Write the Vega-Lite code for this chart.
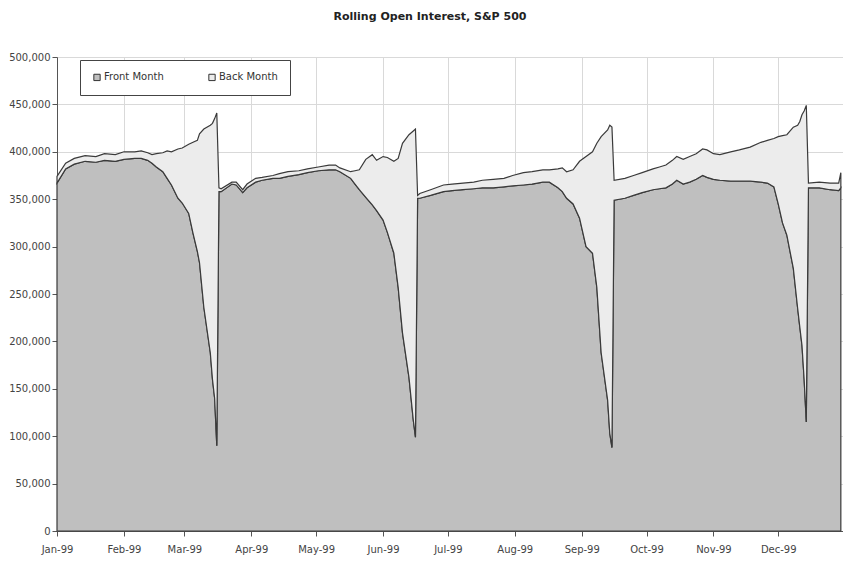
{
  "$schema": "https://vega.github.io/schema/vega-lite/v6.json",
  "width": 786,
  "height": 474,
  "autosize": {"type": "none"},
  "padding": {"left": 57, "top": 57, "right": 0, "bottom": 30},
  "background": "white",
  "config": {"font": "DejaVu Sans", "view": {"stroke": "#d9d9d9"}},
  "title": {"text": "Rolling Open Interest, S&P 500", "fontSize": 11, "fontWeight": "bold", "color": "#222", "anchor": "middle", "frame": "group", "offset": 30, "dx": -20},
  "data": {"values": [
    {"date": "1999-01-01", "Front Month": 367000, "Back Month": 7000},
    {"date": "1999-01-05", "Front Month": 382000, "Back Month": 6000},
    {"date": "1999-01-09", "Front Month": 387000, "Back Month": 6000},
    {"date": "1999-01-14", "Front Month": 390000, "Back Month": 6000},
    {"date": "1999-01-19", "Front Month": 389000, "Back Month": 6000},
    {"date": "1999-01-23", "Front Month": 391000, "Back Month": 7000},
    {"date": "1999-01-28", "Front Month": 390000, "Back Month": 7000},
    {"date": "1999-02-01", "Front Month": 392000, "Back Month": 8000},
    {"date": "1999-02-06", "Front Month": 393000, "Back Month": 7000},
    {"date": "1999-02-09", "Front Month": 393000, "Back Month": 8000},
    {"date": "1999-02-12", "Front Month": 391000, "Back Month": 8000},
    {"date": "1999-02-14", "Front Month": 388000, "Back Month": 9000},
    {"date": "1999-02-16", "Front Month": 384000, "Back Month": 14000},
    {"date": "1999-02-19", "Front Month": 379000, "Back Month": 20000},
    {"date": "1999-02-21", "Front Month": 372000, "Back Month": 29000},
    {"date": "1999-02-23", "Front Month": 365000, "Back Month": 35000},
    {"date": "1999-02-26", "Front Month": 351000, "Back Month": 52000},
    {"date": "1999-02-28", "Front Month": 346000, "Back Month": 58000},
    {"date": "1999-03-03", "Front Month": 335000, "Back Month": 73000},
    {"date": "1999-03-05", "Front Month": 314000, "Back Month": 96000},
    {"date": "1999-03-07", "Front Month": 295000, "Back Month": 117000},
    {"date": "1999-03-08", "Front Month": 283000, "Back Month": 136000},
    {"date": "1999-03-10", "Front Month": 236000, "Back Month": 188000},
    {"date": "1999-03-13", "Front Month": 188000, "Back Month": 240000},
    {"date": "1999-03-14", "Front Month": 160000, "Back Month": 270000},
    {"date": "1999-03-15", "Front Month": 140000, "Back Month": 295000},
    {"date": "1999-03-16", "Front Month": 90000, "Back Month": 351000},
    {"date": "1999-03-17", "Front Month": 358000, "Back Month": 4000},
    {"date": "1999-03-18", "Front Month": 358000, "Back Month": 3000},
    {"date": "1999-03-23", "Front Month": 366000, "Back Month": 2000},
    {"date": "1999-03-25", "Front Month": 365000, "Back Month": 3000},
    {"date": "1999-03-28", "Front Month": 357000, "Back Month": 3000},
    {"date": "1999-03-30", "Front Month": 362000, "Back Month": 4000},
    {"date": "1999-04-03", "Front Month": 368000, "Back Month": 4000},
    {"date": "1999-04-06", "Front Month": 370000, "Back Month": 3000},
    {"date": "1999-04-11", "Front Month": 372000, "Back Month": 3000},
    {"date": "1999-04-14", "Front Month": 372000, "Back Month": 5000},
    {"date": "1999-04-18", "Front Month": 374000, "Back Month": 5000},
    {"date": "1999-04-23", "Front Month": 376000, "Back Month": 4000},
    {"date": "1999-04-27", "Front Month": 378000, "Back Month": 4000},
    {"date": "1999-05-02", "Front Month": 380000, "Back Month": 4000},
    {"date": "1999-05-07", "Front Month": 381000, "Back Month": 5000},
    {"date": "1999-05-10", "Front Month": 381000, "Back Month": 5000},
    {"date": "1999-05-12", "Front Month": 379000, "Back Month": 4000},
    {"date": "1999-05-17", "Front Month": 372000, "Back Month": 7000},
    {"date": "1999-05-19", "Front Month": 366000, "Back Month": 14000},
    {"date": "1999-05-21", "Front Month": 360000, "Back Month": 21000},
    {"date": "1999-05-24", "Front Month": 352000, "Back Month": 40000},
    {"date": "1999-05-27", "Front Month": 344000, "Back Month": 53000},
    {"date": "1999-05-29", "Front Month": 338000, "Back Month": 53000},
    {"date": "1999-06-01", "Front Month": 328000, "Back Month": 67000},
    {"date": "1999-06-03", "Front Month": 315000, "Back Month": 79000},
    {"date": "1999-06-06", "Front Month": 293000, "Back Month": 97000},
    {"date": "1999-06-08", "Front Month": 257000, "Back Month": 136000},
    {"date": "1999-06-10", "Front Month": 209000, "Back Month": 200000},
    {"date": "1999-06-13", "Front Month": 162000, "Back Month": 256000},
    {"date": "1999-06-15", "Front Month": 117000, "Back Month": 305000},
    {"date": "1999-06-16", "Front Month": 99000, "Back Month": 325000},
    {"date": "1999-06-17", "Front Month": 351000, "Back Month": 3000},
    {"date": "1999-06-18", "Front Month": 351000, "Back Month": 5000},
    {"date": "1999-06-23", "Front Month": 354000, "Back Month": 6000},
    {"date": "1999-06-29", "Front Month": 358000, "Back Month": 7000},
    {"date": "1999-07-03", "Front Month": 359000, "Back Month": 7000},
    {"date": "1999-07-08", "Front Month": 360000, "Back Month": 7000},
    {"date": "1999-07-13", "Front Month": 361000, "Back Month": 7000},
    {"date": "1999-07-17", "Front Month": 362000, "Back Month": 8000},
    {"date": "1999-07-22", "Front Month": 362000, "Back Month": 9000},
    {"date": "1999-07-27", "Front Month": 363000, "Back Month": 9000},
    {"date": "1999-07-31", "Front Month": 364000, "Back Month": 11000},
    {"date": "1999-08-05", "Front Month": 365000, "Back Month": 13000},
    {"date": "1999-08-09", "Front Month": 366000, "Back Month": 13000},
    {"date": "1999-08-14", "Front Month": 368000, "Back Month": 13000},
    {"date": "1999-08-17", "Front Month": 368000, "Back Month": 13000},
    {"date": "1999-08-21", "Front Month": 362000, "Back Month": 20000},
    {"date": "1999-08-23", "Front Month": 358000, "Back Month": 25000},
    {"date": "1999-08-25", "Front Month": 351000, "Back Month": 28000},
    {"date": "1999-08-28", "Front Month": 345000, "Back Month": 36000},
    {"date": "1999-08-31", "Front Month": 330000, "Back Month": 60000},
    {"date": "1999-09-03", "Front Month": 300000, "Back Month": 95000},
    {"date": "1999-09-06", "Front Month": 293000, "Back Month": 107000},
    {"date": "1999-09-08", "Front Month": 257000, "Back Month": 152000},
    {"date": "1999-09-10", "Front Month": 188000, "Back Month": 228000},
    {"date": "1999-09-13", "Front Month": 138000, "Back Month": 285000},
    {"date": "1999-09-14", "Front Month": 103000, "Back Month": 325000},
    {"date": "1999-09-15", "Front Month": 88000, "Back Month": 338000},
    {"date": "1999-09-16", "Front Month": 349000, "Back Month": 21000},
    {"date": "1999-09-21", "Front Month": 351000, "Back Month": 21000},
    {"date": "1999-09-25", "Front Month": 354000, "Back Month": 21000},
    {"date": "1999-09-29", "Front Month": 357000, "Back Month": 21000},
    {"date": "1999-10-04", "Front Month": 360000, "Back Month": 22000},
    {"date": "1999-10-07", "Front Month": 361000, "Back Month": 23000},
    {"date": "1999-10-10", "Front Month": 362000, "Back Month": 24000},
    {"date": "1999-10-13", "Front Month": 366000, "Back Month": 25000},
    {"date": "1999-10-15", "Front Month": 370000, "Back Month": 25000},
    {"date": "1999-10-18", "Front Month": 366000, "Back Month": 26000},
    {"date": "1999-10-21", "Front Month": 368000, "Back Month": 27000},
    {"date": "1999-10-24", "Front Month": 371000, "Back Month": 27000},
    {"date": "1999-10-27", "Front Month": 375000, "Back Month": 28000},
    {"date": "1999-10-29", "Front Month": 373000, "Back Month": 29000},
    {"date": "1999-11-01", "Front Month": 371000, "Back Month": 27000},
    {"date": "1999-11-04", "Front Month": 370000, "Back Month": 27000},
    {"date": "1999-11-09", "Front Month": 369000, "Back Month": 31000},
    {"date": "1999-11-13", "Front Month": 369000, "Back Month": 33000},
    {"date": "1999-11-18", "Front Month": 369000, "Back Month": 36000},
    {"date": "1999-11-23", "Front Month": 368000, "Back Month": 42000},
    {"date": "1999-11-26", "Front Month": 367000, "Back Month": 45000},
    {"date": "1999-11-29", "Front Month": 363000, "Back Month": 51000},
    {"date": "1999-12-01", "Front Month": 345000, "Back Month": 71000},
    {"date": "1999-12-03", "Front Month": 325000, "Back Month": 92000},
    {"date": "1999-12-05", "Front Month": 312000, "Back Month": 106000},
    {"date": "1999-12-08", "Front Month": 277000, "Back Month": 149000},
    {"date": "1999-12-10", "Front Month": 235000, "Back Month": 193000},
    {"date": "1999-12-11", "Front Month": 215000, "Back Month": 217000},
    {"date": "1999-12-12", "Front Month": 196000, "Back Month": 243000},
    {"date": "1999-12-13", "Front Month": 160000, "Back Month": 283000},
    {"date": "1999-12-14", "Front Month": 115000, "Back Month": 334000},
    {"date": "1999-12-15", "Front Month": 362000, "Back Month": 5000},
    {"date": "1999-12-20", "Front Month": 362000, "Back Month": 6000},
    {"date": "1999-12-25", "Front Month": 360000, "Back Month": 7000},
    {"date": "1999-12-29", "Front Month": 359000, "Back Month": 8000},
    {"date": "1999-12-30", "Front Month": 362000, "Back Month": 16000}
  ]},
  "transform": [{"fold": ["Front Month", "Back Month"], "as": ["series", "value"]}],
  "mark": {"type": "area", "stroke": "#3a3a3a", "strokeWidth": 1.2, "interpolate": "linear"},
  "encoding": {
    "x": {
      "field": "date", "type": "temporal",
      "scale": {"type": "utc", "domain": [{"year": 1999, "month": 1, "date": 1, "utc": true}, {"year": 1999, "month": 12, "date": 31, "utc": true}]},
      "axis": {
        "title": null,
        "labelExpr": "utcFormat(datum.value, '%b-%y')",
        "values": [
          {"year": 1999, "month": 1, "date": 1, "utc": true},
          {"year": 1999, "month": 2, "date": 1, "utc": true},
          {"year": 1999, "month": 3, "date": 1, "utc": true},
          {"year": 1999, "month": 4, "date": 1, "utc": true},
          {"year": 1999, "month": 5, "date": 1, "utc": true},
          {"year": 1999, "month": 6, "date": 1, "utc": true},
          {"year": 1999, "month": 7, "date": 1, "utc": true},
          {"year": 1999, "month": 8, "date": 1, "utc": true},
          {"year": 1999, "month": 9, "date": 1, "utc": true},
          {"year": 1999, "month": 10, "date": 1, "utc": true},
          {"year": 1999, "month": 11, "date": 1, "utc": true},
          {"year": 1999, "month": 12, "date": 1, "utc": true}
        ],
        "grid": true, "gridColor": "#d9d9d9", "tickSize": 5, "tickColor": "#555", "domainColor": "#555",
        "labelFontSize": 10, "labelColor": "#444", "labelPadding": 8, "labelFlush": false
      }
    },
    "y": {
      "field": "value", "type": "quantitative", "stack": "zero",
      "scale": {"domain": [0, 500000], "nice": false},
      "axis": {
        "title": null, "format": ",d", "values": [0, 50000, 100000, 150000, 200000, 250000, 300000, 350000, 400000, 450000, 500000],
        "grid": true, "gridColor": "#d9d9d9", "tickSize": 5, "tickColor": "#555", "domainColor": "#555",
        "labelFontSize": 10, "labelColor": "#444", "labelPadding": 2
      }
    },
    "color": {
      "field": "series", "type": "nominal",
      "scale": {"domain": ["Front Month", "Back Month"], "range": ["#bfbfbf", "#ececec"]},
      "legend": {
        "title": null, "orient": "none", "legendX": 23, "legendY": 3, "direction": "horizontal",
        "strokeColor": "#444", "fillColor": "white", "padding": 12, "columnPadding": 42,
        "symbolType": "square", "symbolSize": 40, "symbolStrokeColor": "#333", "symbolStrokeWidth": 1,
        "labelFontSize": 10, "labelColor": "#333", "labelOffset": 2
      }
    },
    "order": {"field": "series", "sort": "descending"}
  }
}
